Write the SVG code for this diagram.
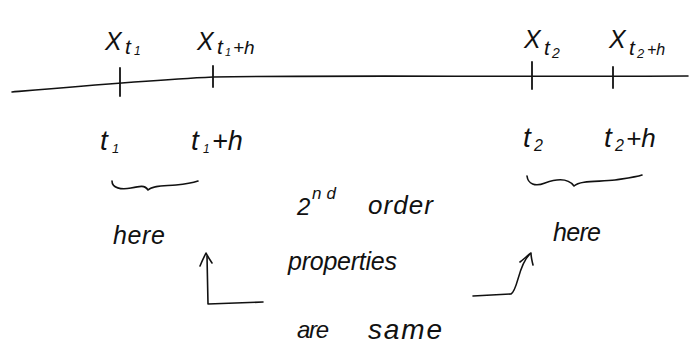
<svg xmlns="http://www.w3.org/2000/svg" width="695" height="360" viewBox="0 0 695 360">
<defs>
<style>
.hw{font-family:"Liberation Sans","DejaVu Sans",sans-serif;font-style:italic;fill:#111;}
.ln{fill:none;stroke:#111;stroke-width:1.6;stroke-linecap:round;stroke-linejoin:round;}
.tk{fill:none;stroke:#111;stroke-width:1.8;stroke-linecap:round;}
</style>
</defs>
<rect width="695" height="360" fill="#ffffff"/>
<g id="axis">
<path class="ln" d="M12,92 C70,87 150,80 213,77 C330,75 500,77 688,76"/>
<line class="tk" x1="120" y1="68" x2="120" y2="96"/>
<line class="tk" x1="213" y1="66" x2="213" y2="87"/>
<line class="tk" x1="532" y1="62" x2="532" y2="89"/>
<line class="tk" x1="613" y1="67" x2="613" y2="88"/>
</g>
<g id="label-Xt1"><text class="hw"><tspan x="105" y="50" font-size="25">X</tspan><tspan x="125" y="54" font-size="21">t</tspan><tspan x="134" y="55" font-size="12">1</tspan></text></g>
<g id="label-Xt1h"><text class="hw"><tspan x="197" y="50" font-size="25">X</tspan><tspan x="217" y="54" font-size="21">t</tspan><tspan x="225" y="56" font-size="11">1</tspan><tspan x="233" y="54" font-size="19">+h</tspan></text></g>
<g id="label-Xt2"><text class="hw"><tspan x="524" y="48" font-size="25">X</tspan><tspan x="544" y="55" font-size="21">t</tspan><tspan x="552" y="58" font-size="14">2</tspan></text></g>
<g id="label-Xt2h"><text class="hw"><tspan x="609" y="48" font-size="25">X</tspan><tspan x="629" y="55" font-size="21">t</tspan><tspan x="637" y="58" font-size="13">2</tspan><tspan x="647" y="55" font-size="16">+h</tspan></text></g>
<g id="label-t1"><text class="hw"><tspan x="100" y="150" font-size="28">t</tspan><tspan x="112" y="153" font-size="13">1</tspan></text></g>
<g id="label-t1h"><text class="hw"><tspan x="191" y="150" font-size="28">t</tspan><tspan x="203" y="153" font-size="12">1</tspan><tspan x="212" y="150" font-size="27">+h</tspan></text></g>
<g id="label-t2"><text class="hw"><tspan x="523" y="147" font-size="28">t</tspan><tspan x="534" y="151" font-size="16">2</tspan></text></g>
<g id="label-t2h"><text class="hw"><tspan x="604" y="147" font-size="28">t</tspan><tspan x="615" y="151" font-size="16">2</tspan><tspan x="626" y="147" font-size="26">+h</tspan></text></g>
<g id="brace-left"><path class="ln" d="M112,181 C112,188 121,190 131,188 C140,186 145,185 148,190 C153,185 165,186 176,185 C186,184 192,183 198,181"/></g>
<g id="brace-right"><path class="ln" d="M527,176 C528,184 535,187 545,183 C556,179 568,178 574,186 C580,180 600,182 615,180 C628,178 636,177 642,175"/></g>
<g id="here-left"><text class="hw" x="113" y="244" font-size="25" textLength="52" lengthAdjust="spacing">here</text></g>
<g id="here-right"><text class="hw" x="553" y="241" font-size="25" textLength="48" lengthAdjust="spacing">here</text></g>
<g id="text-2nd"><text class="hw"><tspan x="297" y="215" font-size="24">2</tspan><tspan x="312" y="199" font-size="17" textLength="24" lengthAdjust="spacing">nd</tspan></text></g>
<g id="text-order"><text class="hw" x="368" y="214" font-size="26" textLength="65" lengthAdjust="spacing">order</text></g>
<g id="text-properties"><text class="hw" x="288" y="270" font-size="25" textLength="109" lengthAdjust="spacing">properties</text></g>
<g id="text-are"><text class="hw" x="297" y="338" font-size="24" textLength="32" lengthAdjust="spacing">are</text></g>
<g id="text-same"><text class="hw" x="368" y="339" font-size="28" textLength="74" lengthAdjust="spacing">same</text></g>
<g id="connectors">
<path class="ln" d="M263,302 L208,304 L207,256"/>
<path class="ln" d="M200,266 C202,261 204,257 206,253 C208,257 210,260 212,263"/>
<path class="ln" d="M473,296 L511,294 C518,290 518,266 529,255"/>
<path class="ln" d="M520,262 C524,259 527,256 531,253 C531,257 532,261 533,265"/>
</g>
</svg>
